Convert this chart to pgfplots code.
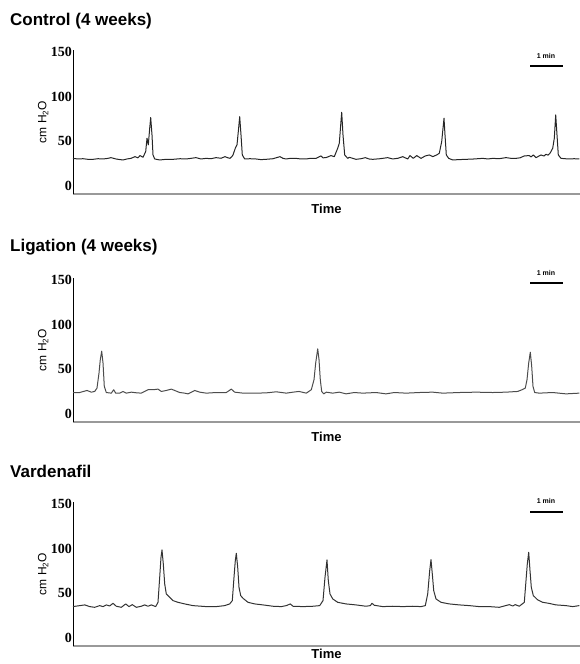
\documentclass[border=0pt]{standalone}
\usepackage{fontspec}
\setmainfont{Liberation Sans}
\newfontfamily\tickfont{Liberation Serif}
\usepackage{pgfplots}
\pgfplotsset{compat=1.18}

\pgfplotsset{
  trace/.style={
    scale only axis, width=507pt, height=144pt,
    xmin=0, xmax=507, ymin=-9, ymax=152.2,
    axis x line*=bottom, axis y line*=left,
    x axis line style={draw=gray!80, line width=1.2pt, -},
    y axis line style={draw=black, line width=0.7pt, -},
    xtick=\empty, ytick={0,50,100,150},
    major tick length=0pt,
    yticklabel style={font=\tickfont\bfseries\fontsize{14}{14}\selectfont, inner sep=1pt},
    /pgf/number format/assume math mode=true,
    ylabel={cm H\textsubscript{2}O},
    ylabel style={font=\fontsize{12}{12}\selectfont, yshift=-2pt},
    xlabel={Time},
    xlabel style={font=\bfseries\fontsize{13}{13}\selectfont, at={(axis description cs:0.5,0)}, anchor=north, inner sep=0pt, yshift=-10pt},
    clip=false,
  },
}
\tikzset{
  sig/.style={line width=1pt, line join=round},
  ttl/.style={anchor=base west, inner sep=0, font=\bfseries\fontsize{17}{17}\selectfont},
  bar/.style={font=\bfseries\fontsize{7}{7}\selectfont, inner sep=0},
}

\begin{document}
\begin{tikzpicture}
\path[use as bounding box] (0,0) rectangle (580pt,664pt);

% Control
\node[ttl] at (10pt,638pt) {Control (4 weeks)};
\begin{axis}[trace, at={(73pt,470pt)}, anchor=south west]
\addplot[sig, color=black!85] coordinates {
(0,30.9) (5,30.2) (10,30.5) (15,29.8) (20,29.8) (25,30.5) (30,30.2) (35,30.9) (38,31.7) (43,30.2)
(47,29.5) (50,29.1) (54,30.2) (58,30.9) (62,32.8) (65,31.5) (67,34.0) (70,32.1) (72.7,38.5) (74,53.4)
(75.3,46.0) (76.7,64.6) (77.7,76.6) (79,57.1) (80,34.7) (81.7,30.2) (86.7,29.1) (93,29.8) (100,29.8) (107,30.5)
(113,30.2) (118,30.9) (123,31.7) (128,30.2) (133,30.9) (138,30.5) (143,31.7) (148,31.0) (152,32.8) (155,31.5)
(157,30.9) (159,33.0) (160,34.7) (162.3,42.2) (164,46.0) (165.3,60.8) (166.7,77.6) (168,57.1) (169.3,34.7) (171.7,30.2)
(177,30.5) (183,30.2) (188,29.5) (193,29.8) (200,30.5) (207,32.8) (210,30.9) (213,30.2) (218,31.0) (223,30.9)
(228,30.2) (233,30.2) (238,31.0) (243,30.9) (248,33.6) (250,31.5) (253,31.7) (258,34.0) (261.3,32.8) (264.7,42.2)
(266.3,47.9) (267.7,68.3) (268.7,82.5) (270,57.1) (271.7,34.7) (274.7,30.9) (276.3,32.1) (283,29.8) (288,30.5) (292.3,31.7)
(296,30.2) (299.7,29.8) (307,30.5) (314.7,31.7) (319.7,30.2) (325,31.0) (329.7,32.8) (334.7,30.2) (337,34.0) (340.3,30.9)
(343.7,34.0) (348,30.9) (352.3,33.6) (356.3,34.7) (359.7,32.8) (363.7,34.7) (366.3,36.6) (368.7,49.7) (370,64.6) (371,75.8)
(372,57.1) (373.3,34.7) (375.7,30.9) (379.7,29.1) (386,29.5) (393,29.8) (401,30.2) (409.7,30.9) (415,30.2) (419.7,30.9)
(426,30.5) (433,31.7) (438,30.9) (443,30.9) (447,31.5) (451.3,33.6) (456.3,34.0) (458,32.5) (460.3,34.7) (463,31.7)
(468,34.7) (471,33.5) (473,35.5) (475,34.5) (477,36.6) (479.7,42.2) (481.3,53.4) (482.7,79.5) (484,57.1) (485.3,34.7)
(488,30.9) (492,30.5) (496.3,30.2) (501,30.5) (506.3,30.2)
};
\end{axis}
\draw[line width=2pt] (530pt,598pt) -- (563pt,598pt);
\node[bar] at (546pt,608pt) {1 min};

% Ligation
\node[ttl] at (10pt,412pt) {Ligation (4 weeks)};
\begin{axis}[trace, at={(73pt,242pt)}, anchor=south west]
\addplot[sig, color=black!70] coordinates {
(0,24.0) (6.7,24.0) (14,26.3) (18.3,24.4) (21.7,25.2) (24,29.0) (26,45.8) (27.3,60.9) (28.7,70.3) (30,57.1)
(31.3,30.8) (33.3,24.0) (38.3,23.3) (40.7,27.1) (42.7,23.3) (46.7,23.3) (50,25.2) (53.3,23.3) (58.3,24.4) (63.3,23.7)
(68.3,23.3) (75,27.1) (80,27.1) (85,27.8) (88.3,25.2) (93.3,26.3) (98.3,27.8) (101.7,26.3) (106.7,24.0) (111.7,23.3)
(115,22.5) (121.7,26.3) (126.7,24.4) (133.3,23.3) (143.3,24.0) (153.3,24.0) (158.3,27.8) (161.7,24.4) (170,23.3) (183.3,23.3)
(193.3,23.6) (203.3,24.8) (213.3,23.3) (220,24.4) (226,25.2) (233.3,23.3) (238.3,27.1) (241,38.3) (242.7,57.1) (244.7,72.9)
(246,60.9) (247.3,38.3) (248.7,25.2) (250.7,22.5) (253.3,24.4) (259.7,23.3) (266.3,24.4) (273,22.5) (281.3,24.0) (289.7,23.3)
(303,24.0) (313,22.5) (321.3,24.0) (333,23.3) (346.3,24.0) (359.7,24.4) (369.7,23.3) (386.3,24.0) (403,24.4) (419.7,24.0)
(433,24.4) (444.7,25.2) (449,27.1) (452.3,29.0) (454,38.3) (455.7,57.1) (457.3,69.1) (458.7,53.3) (460,30.8) (461.7,24.0)
(466.3,23.3) (479.7,24.0) (493,22.5) (506.3,23.3)
};
\end{axis}
\draw[line width=2pt] (530pt,381pt) -- (563pt,381pt);
\node[bar] at (546pt,391pt) {1 min};

% Vardenafil
\node[ttl] at (10pt,186pt) {Vardenafil};
\begin{axis}[trace, at={(73pt,18pt)}, anchor=south west, xlabel style={yshift=7pt}]
\addplot[sig, color=black!80] coordinates {
(0,35.1) (6.7,36.2) (11.7,37.0) (16.7,35.1) (21.7,34.3) (26.7,36.2) (30,35.1) (33.3,37.0) (36.7,35.8) (40,38.8)
(43.3,35.5) (48.3,34.3) (52.7,38.1) (56,35.1) (59.3,37.3) (63.3,34.3) (68.3,35.5) (71.7,37.0) (75,35.5) (78.3,37.0)
(82.7,35.1) (85,39.9) (86.7,67.9) (88,90.3) (89,98.5) (90.3,82.9) (91.7,60.5) (93.3,49.3) (96.7,45.5) (100,41.8)
(105,39.9) (111.7,38.1) (120,36.2) (133.3,35.1) (143.3,35.1) (151.7,36.2) (156.7,38.1) (159.3,41.8) (161,67.9) (162.3,86.6)
(163.3,94.8) (164.7,79.1) (166,56.7) (167.7,47.4) (170,44.4) (175,39.9) (181.7,38.1) (190,37.0) (200,35.5) (208.3,35.1)
(213.3,36.2) (217.3,38.1) (220,35.5) (230,35.1) (240,35.5) (246.7,36.2) (250,41.8) (252,67.9) (254,87.3) (255.3,64.2)
(257,49.3) (259.7,43.7) (264.7,39.9) (273,38.1) (283,37.0) (293,35.5) (297.3,36.2) (299,38.8) (301.3,36.6) (309.7,35.1)
(319.7,35.5) (329.7,35.1) (339.7,35.5) (348,35.1) (352.3,36.2) (354.7,49.3) (356.7,75.4) (358,87.7) (359.3,71.7) (360.7,53.0)
(363,43.7) (368,39.9) (376.3,38.1) (386.3,37.0) (396.3,36.2) (406.3,35.1) (416.3,35.1) (426.3,34.3) (436.3,37.3) (439.7,35.8)
(442.3,37.3) (446.3,35.5) (451.3,39.9) (453,64.2) (454.3,82.9) (455.7,95.9) (457,75.4) (458.3,56.7) (460.3,47.4) (464.7,42.6)
(469.7,39.9) (475.7,38.8) (483,37.0) (493,36.2) (499.7,35.1) (506.3,36.2)
};
\end{axis}
\draw[line width=2pt] (530pt,152pt) -- (563pt,152pt);
\node[bar] at (546pt,163pt) {1 min};
\end{tikzpicture}
\end{document}
